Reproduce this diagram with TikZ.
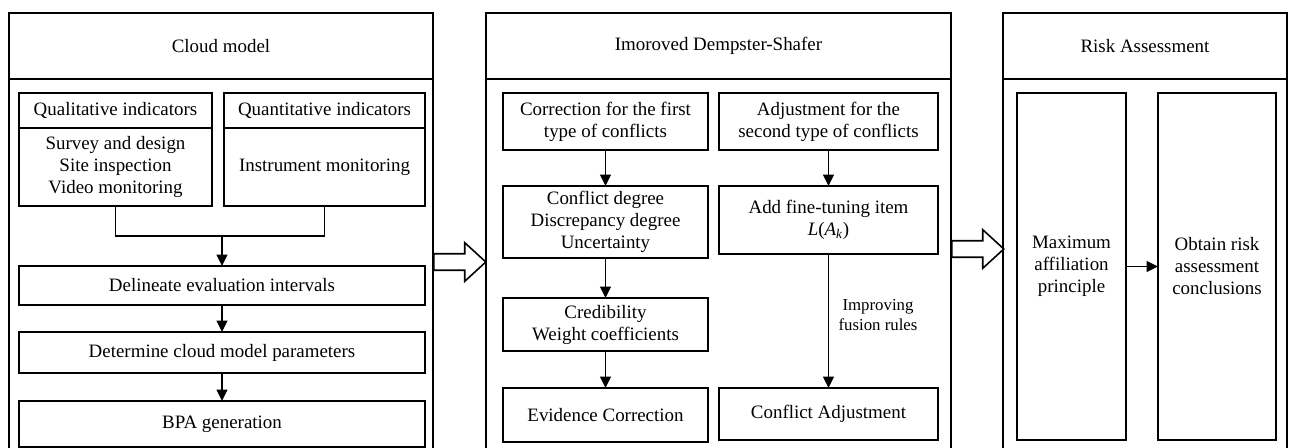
\documentclass[tikz,border=0pt]{standalone}
\usepackage{fontspec}
\setmainfont{Liberation Serif}
\usetikzlibrary{shapes.arrows, arrows.meta, positioning, calc}
\tikzset{
	cell/.style={draw, line width=1.2pt, align=center, inner sep=2pt, outer sep=0pt, font=\fontsize{14.2}{16.5}\selectfont},
	wh/.style 2 args={minimum width=#1*0.75pt, minimum height=#2*0.75pt},
	line/.style={draw, line width=1.2pt, -{Triangle[length=8.5pt, width=8pt]}}
}

\begin{document}
\begin{tikzpicture}[
	x=0.75pt, y=-0.75pt, % one unit = one pixel of the layout
	hollow/.style={single arrow, draw, line width=1.2pt, inner xsep=0pt, inner ysep=5.6pt, single arrow head extend=8.25pt, single arrow tip angle=85, minimum height=52*0.75pt},
	note_style/.style={font=\fontsize{12.6}{15}\selectfont, align=center}
	]
	\useasboundingbox (0,0) rectangle (1292,448);
	
	% --- Left panel: cloud model ---
	\node[cell, wh={424}{381}] (cloud_body) at (221,269.5) {};
	\node[cell, wh={424}{66}] (cloud_head) at (221,46) {Cloud model};
	
	\node[cell, wh={193}{35}] (qual_head) at (115.5,110.5) {Qualitative indicators};
	\node[cell, wh={193}{78}] (qual_list) at (115.5,167) {Survey and design\\Site inspection\\Video monitoring};
	\node[cell, wh={201}{35}] (quan_head) at (324.5,110.5) {Quantitative indicators};
	\node[cell, wh={201}{78}] (quan_list) at (324.5,167) {Instrument monitoring};
	
	\node[cell, wh={406}{39}] (delineate) at (222,285.5) {Delineate evaluation intervals};
	\node[cell, wh={406}{41}] (params) at (222,352.5) {Determine cloud model parameters};
	\node[cell, wh={406}{46}] (bpa) at (222,424) {BPA generation};
	
	% Both indicator groups merge into one line
	\coordinate (merge) at (222,236);
	\draw[line width=1.2pt] (qual_list.south) |- (merge) -| (quan_list.south);
	\draw[line] (merge) -- (delineate);
	\draw[line] (delineate) -- (params);
	\draw[line] (params) -- (bpa);
	
	
	% --- Middle panel: improved D-S ---
	\node[cell, wh={465}{381}] (ds_body) at (718.5,269.5) {};
	\node[cell, wh={465}{66}] (ds_head) at (718.5,46) {Imoroved Dempster-Shafer};
	
	\node[cell, wh={205}{57}] (first_conf) at (605.5,121.5) {Correction for the first\\type of conflicts};
	\node[cell, wh={205}{72}] (measures) at (605.5,222) {Conflict degree\\Discrepancy degree\\Uncertainty};
	\node[cell, wh={205}{53}] (credibility) at (605.5,324.5) {Credibility\\Weight coefficients};
	\node[cell, wh={205}{54}] (evidence) at (605.5,415) {Evidence Correction};
	
	\node[cell, wh={219}{57}] (second_conf) at (828.5,121.5) {Adjustment for the\\second type of conflicts};
	\node[cell, wh={219}{68}] (fine_tune) at (828.5,220) {Add fine-tuning item\\\textit{L}(\textit{A}\textsubscript{\textit{k}})};
	\node[cell, wh={219}{52}] (adjustment) at (828.5,414) {Conflict Adjustment};
	
	\draw[line] (first_conf) -- (measures);
	\draw[line] (measures) -- (credibility);
	\draw[line] (credibility) -- (evidence);
	\draw[line] (second_conf) -- (fine_tune);
	\draw[line] (fine_tune) -- (adjustment);
	\node[note_style] (fusion_note) at (878,315) {Improving\\fusion rules};
	
	
	% --- Right panel: risk assessment ---
	\node[cell, wh={284}{381}] (risk_body) at (1145,269.5) {};
	\node[cell, wh={284}{66}] (risk_head) at (1145,46) {Risk Assessment};
	
	\node[cell, wh={109}{347}] (max_aff) at (1071.5,266.5) {Maximum\\affiliation\\principle};
	\node[cell, wh={118}{347}] (conclusion) at (1217,266.5) {Obtain risk\\assessment\\conclusions};
	\draw[line] (max_aff) -- (conclusion);
	
	
	% --- Hollow arrows between the panels ---
	\node[hollow, anchor=tail] (fat_arrow_a) at (433,262) {};
	\node[hollow, anchor=tail] (fat_arrow_b) at (951,249) {};
	
\end{tikzpicture}
\end{document}
